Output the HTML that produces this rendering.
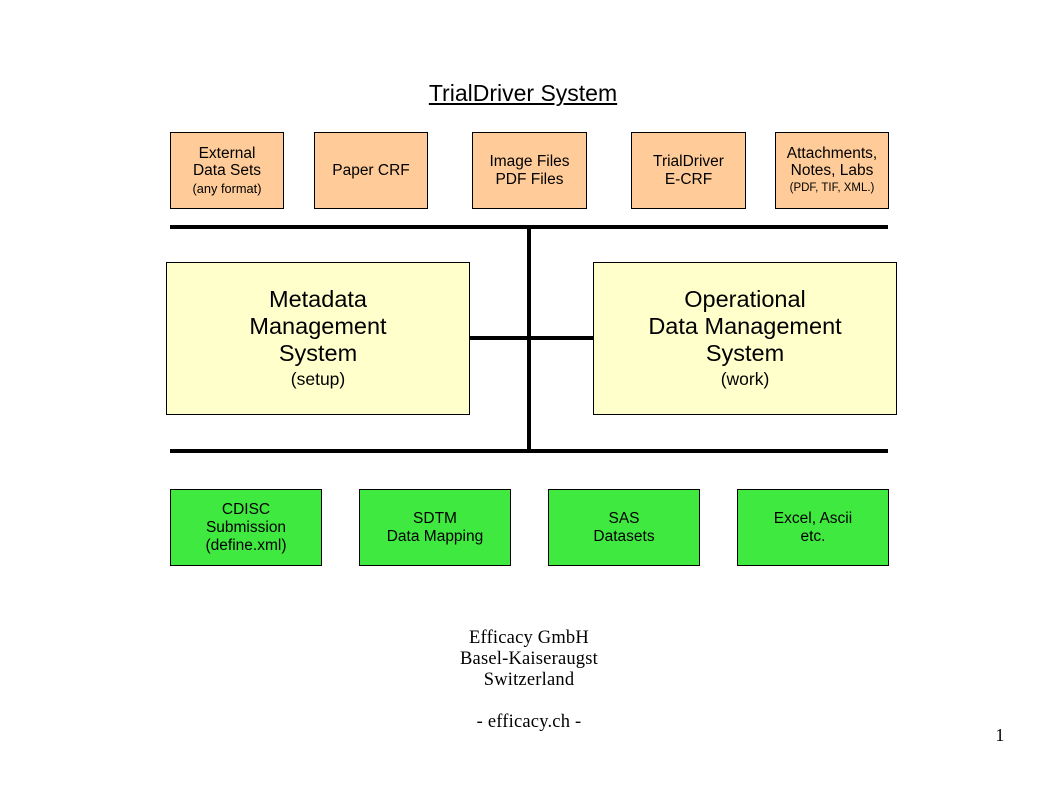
<!DOCTYPE html>
<html>
<head>
<meta charset="utf-8">
<style>
  html,body{margin:0;padding:0;background:#fff;}
  body{width:1058px;height:794px;position:relative;overflow:hidden;font-family:"Liberation Sans",Arial,sans-serif;color:#000;}
  .box{position:absolute;box-sizing:border-box;border:1px solid #000;display:flex;flex-direction:column;align-items:center;justify-content:center;text-align:center;}
  .peach{background:#FFCC99;font-size:15.5px;line-height:17.5px;}
  .yellow{background:#FFFFCC;font-size:23.5px;line-height:27px;}
  .green{background:#40E940;font-size:15.5px;line-height:18px;}
  .sm{font-size:12.8px;line-height:17px;}
  .med{font-size:17.5px;line-height:25px;}
  .bar{position:absolute;background:#000;}
  .title{position:absolute;left:0;width:1046px;top:79px;text-align:center;font-size:23px;line-height:28px;}
  .title span{text-decoration:underline;text-underline-offset:2px;text-decoration-thickness:1.5px;}
  .foot{position:absolute;left:0;width:1058px;text-align:center;font-family:"Liberation Serif","Times New Roman",serif;font-size:18.5px;line-height:21px;letter-spacing:0.2px;}
</style>
</head>
<body>
  <div class="title"><span>TrialDriver System</span></div>

  <div class="box peach" style="left:170px;top:132px;width:114px;height:77px;">
    <div>External</div><div>Data Sets</div><div class="sm">(any format)</div>
  </div>
  <div class="box peach" style="left:314px;top:132px;width:114px;height:77px;">
    <div>Paper CRF</div>
  </div>
  <div class="box peach" style="left:472px;top:132px;width:115px;height:77px;">
    <div>Image Files</div><div>PDF Files</div>
  </div>
  <div class="box peach" style="left:631px;top:132px;width:115px;height:77px;">
    <div>TrialDriver</div><div>E-CRF</div>
  </div>
  <div class="box peach" style="left:775px;top:132px;width:114px;height:77px;">
    <div>Attachments,</div><div>Notes, Labs</div><div class="sm" style="font-size:11.5px;">(PDF, TIF, XML.)</div>
  </div>

  <div class="bar" style="left:170px;top:225px;width:718px;height:4px;"></div>
  <div class="bar" style="left:527px;top:225px;width:4px;height:228px;"></div>
  <div class="bar" style="left:469px;top:336px;width:124px;height:4px;"></div>
  <div class="bar" style="left:170px;top:449px;width:718px;height:4px;"></div>

  <div class="box yellow" style="left:166px;top:262px;width:304px;height:153px;">
    <div>Metadata</div><div>Management</div><div>System</div><div class="med">(setup)</div>
  </div>
  <div class="box yellow" style="left:593px;top:262px;width:304px;height:153px;">
    <div>Operational</div><div>Data Management</div><div>System</div><div class="med">(work)</div>
  </div>

  <div class="box green" style="left:170px;top:489px;width:152px;height:77px;">
    <div>CDISC</div><div>Submission</div><div>(define.xml)</div>
  </div>
  <div class="box green" style="left:359px;top:489px;width:152px;height:77px;">
    <div>SDTM</div><div>Data Mapping</div>
  </div>
  <div class="box green" style="left:548px;top:489px;width:152px;height:77px;">
    <div>SAS</div><div>Datasets</div>
  </div>
  <div class="box green" style="left:737px;top:489px;width:152px;height:77px;">
    <div>Excel, Ascii</div><div>etc.</div>
  </div>

  <div class="foot" style="top:628px;">Efficacy GmbH</div>
  <div class="foot" style="top:649px;">Basel-Kaiseraugst</div>
  <div class="foot" style="top:670px;">Switzerland</div>
  <div class="foot" style="top:712px;">- efficacy.ch -</div>
  <div class="foot" style="left:990px;width:20px;top:725px;font-size:18px;">1</div>
</body>
</html>
